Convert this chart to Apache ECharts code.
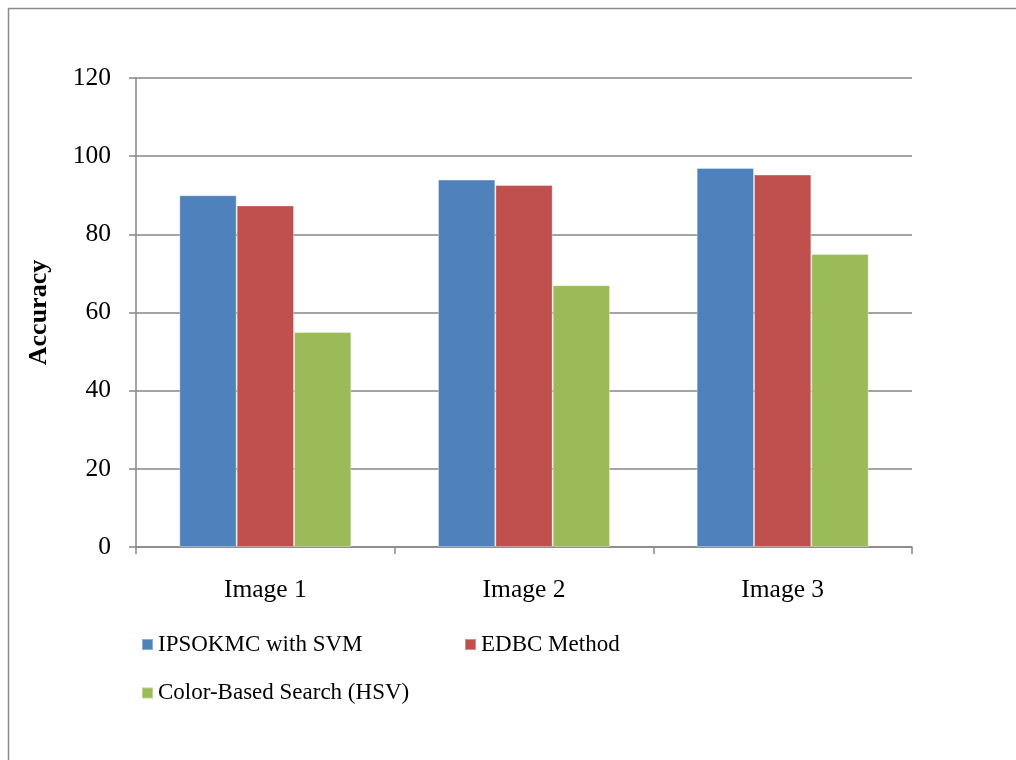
<!DOCTYPE html>
<html>
<head>
<meta charset="utf-8">
<script src="https://cdn.jsdelivr.net/npm/echarts@6/dist/echarts.min.js"></script>
<style>
  html, body { margin: 0; padding: 0; background: #fff; }
  #chart { width: 1016px; height: 760px; }
</style>
</head>
<body>
<div id="chart"></div>
<script>
// Image categories and accuracy values per method
const categories = ['Image 1', 'Image 2', 'Image 3'];
const ipsokmcSvm = [90, 94, 97];
const edbcMethod = [87.4, 92.6, 95.3];
const colorHsv = [55, 67, 75];
const seriesNames = ['IPSOKMC with SVM', 'EDBC Method', 'Color-Based Search (HSV)'];

const FONT = '"Liberation Serif", "Times New Roman", serif';
const GREY = '#868686';

const chart = echarts.init(document.getElementById('chart'), null, { renderer: 'canvas' });

const legendText = { fontFamily: FONT, fontSize: 23, color: '#000', lineHeight: 24 };
const legendBase = {
  orient: 'horizontal', itemWidth: 11, itemHeight: 11, itemGap: 5,
  icon: 'rect', textStyle: legendText, padding: 0, selectedMode: false
};

chart.setOption({
  animation: false,
  backgroundColor: '#fff',
  graphic: [{
    type: 'rect',
    shape: { x: 8.5, y: 8.5, width: 2000, height: 2000 },
    style: { fill: 'none', stroke: '#8a8a8a', lineWidth: 1.5 },
    silent: true
  }],
  grid: { left: 136, right: 104, top: 78, bottom: 213, containLabel: false },
  legend: [
    Object.assign({}, legendBase, { data: [seriesNames[0]], left: 141, top: 632.5 }),
    Object.assign({}, legendBase, { data: [seriesNames[1]], left: 464, top: 632.5 }),
    Object.assign({}, legendBase, { data: [seriesNames[2]], left: 141, top: 681 })
  ],
  xAxis: {
    type: 'category',
    data: categories,
    axisLine: { show: true, lineStyle: { color: GREY, width: 1.5 } },
    axisTick: { show: true, alignWithLabel: false, length: 7, lineStyle: { color: GREY, width: 1.5 } },
    axisLabel: { fontFamily: FONT, fontSize: 25.5, color: '#000', margin: 30 },
    splitLine: { show: false }
  },
  yAxis: {
    type: 'value',
    min: 0, max: 120, interval: 20,
    name: 'Accuracy',
    nameLocation: 'middle',
    nameGap: 84,
    nameRotate: 90,
    nameTextStyle: { fontFamily: FONT, fontSize: 26, fontWeight: 'bold', color: '#000' },
    axisLine: { show: true, lineStyle: { color: GREY, width: 1.5 } },
    axisTick: { show: true, length: 7, lineStyle: { color: GREY, width: 1.5 } },
    axisLabel: { fontFamily: FONT, fontSize: 25.5, color: '#000', margin: 25 },
    splitLine: { show: true, lineStyle: { color: GREY, width: 1.5 } }
  },
  series: [
    { name: seriesNames[0], type: 'bar', data: ipsokmcSvm, itemStyle: { color: '#4F81BD', borderColor: 'rgba(255,255,255,0.35)', borderWidth: 1 }, barGap: '0%', barCategoryGap: '33.5%' },
    { name: seriesNames[1], type: 'bar', data: edbcMethod, itemStyle: { color: '#C0504D', borderColor: 'rgba(255,255,255,0.35)', borderWidth: 1 }, barGap: '0%', barCategoryGap: '33.5%' },
    { name: seriesNames[2], type: 'bar', data: colorHsv, itemStyle: { color: '#9BBB59', borderColor: 'rgba(255,255,255,0.35)', borderWidth: 1 }, barGap: '0%', barCategoryGap: '33.5%' }
  ]
});
</script>
</body>
</html>
